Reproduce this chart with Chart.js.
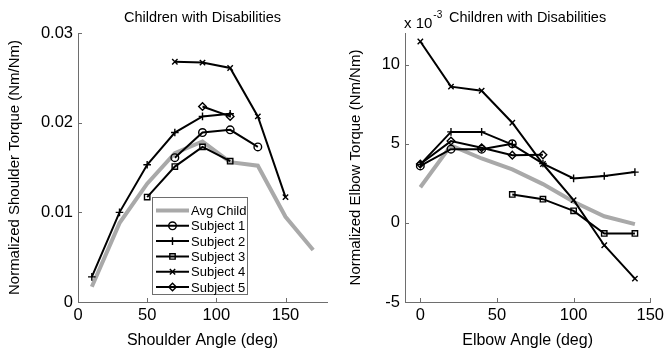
<!DOCTYPE html>
<html>
<head>
<meta charset="utf-8">
<script src="https://cdn.jsdelivr.net/npm/chart.js@4.4.0/dist/chart.umd.min.js"></script>
<style>
  body { margin: 0; background: #fff; }
  #wrap { position: relative; width: 668px; height: 358px; }
  canvas { position: absolute; top: 0; }
</style>
</head>
<body>
<div id="wrap">
  <canvas id="shoulder" width="334" height="358" style="left:0"></canvas>
  <canvas id="elbow" width="334" height="358" style="left:334px"></canvas>
</div>
<script>
// shoulder (left plot), torque in Nm/Nm
const shoulderAngles = [10, 30, 50, 70, 90, 110, 130, 150, 170];
const shoulderAvg = [0.0017, 0.0088, 0.0132, 0.0166, 0.0179, 0.0156, 0.0152, 0.0095, 0.0058];
const shoulderS1x = [70, 90, 110, 130];
const shoulderS1 = [0.0161, 0.0189, 0.0192, 0.0173];
const shoulderS2x = [10, 30, 50, 70, 90, 110];
const shoulderS2 = [0.0028, 0.0100, 0.0153, 0.0189, 0.0207, 0.0210];
const shoulderS3x = [50, 70, 90, 110];
const shoulderS3 = [0.0117, 0.0151, 0.0173, 0.0157];
const shoulderS4x = [70, 90, 110, 130, 150];
const shoulderS4 = [0.0268, 0.0267, 0.0261, 0.0207, 0.0117];
const shoulderS5x = [90, 110];
const shoulderS5 = [0.0218, 0.0207];
const shoulderXTicks = [0, 50, 100, 150];
const shoulderYTicks = [0, 0.01, 0.02, 0.03];

// elbow (right plot), torque in units of 10^-3 Nm/Nm
const elbowAngles = [0, 20, 40, 60, 80, 100, 120, 140];
const elbowAvg = [2.25, 4.9, 4.07, 3.38, 2.45, 1.33, 0.42, -0.08];
const elbowS1x = [0, 20, 40, 60];
const elbowS1 = [3.6, 4.66, 4.66, 5.0];
const elbowS2x = [0, 20, 40, 60, 80, 100, 120, 140];
const elbowS2 = [3.7, 5.75, 5.75, 4.95, 3.75, 2.81, 2.96, 3.21];
const elbowS3x = [60, 80, 100, 120, 140];
const elbowS3 = [1.8, 1.5, 0.76, -0.67, -0.67];
const elbowS4x = [0, 20, 40, 60, 80, 100, 120, 140];
const elbowS4 = [11.46, 8.61, 8.35, 6.33, 3.72, 1.44, -1.41, -3.52];
const elbowS5x = [0, 20, 40, 60, 80];
const elbowS5 = [3.72, 5.17, 4.75, 4.28, 4.3];
const elbowXTicks = [0, 50, 100, 150];
const elbowYTicks = [-5, 0, 5, 10];

const labels = ['Avg Child', 'Subject 1', 'Subject 2', 'Subject 3', 'Subject 4', 'Subject 5'];
const markers = [false, 'circle', 'cross', 'rect', 'crossRot', 'rectRot'];
const plotTitle = 'Children with Disabilities';

const fontFamily = "'Liberation Sans', Arial, sans-serif";
const axisColor = '#6e6e6e';
Chart.defaults.font.family = fontFamily;
Chart.defaults.color = '#000';

function pts(xs, ys) {
    return xs.map((x, i) => ({ x: x, y: ys[i] }));
}

function makeDatasets(series) {
    return series.map((s, i) => {
        if (i === 0) {
            return {
                label: labels[0], data: pts(s[0], s[1]), order: 1,
                borderColor: '#a9a9a9', borderWidth: 4, pointRadius: 0, pointHoverRadius: 0
            };
        }
        return {
            label: labels[i], data: pts(s[0], s[1]), order: 0,
            borderColor: '#000', borderWidth: 2,
            pointStyle: markers[i], pointRadius: 3.8, pointBorderWidth: 1.4,
            pointBorderColor: '#000', pointBackgroundColor: 'rgba(0,0,0,0)'
        };
    });
}

// MATLAB style ticks pointing into the plot
const inwardTicks = {
    id: 'inwardTicks',
    beforeDatasetsDraw(chart) {
        const ctx = chart.ctx, area = chart.chartArea;
        const xs = chart.scales.x, ys = chart.scales.y;
        ctx.save();
        ctx.strokeStyle = axisColor;
        ctx.lineWidth = 1;
        ctx.beginPath();
        xs.ticks.forEach(t => {
            const px = Math.round(xs.getPixelForValue(t.value)) + 0.5;
            ctx.moveTo(px, area.bottom);
            ctx.lineTo(px, area.bottom - 4);
        });
        ys.ticks.forEach(t => {
            const py = Math.round(ys.getPixelForValue(t.value)) + 0.5;
            ctx.moveTo(area.left, py);
            ctx.lineTo(area.left + 4, py);
        });
        ctx.stroke();
        ctx.restore();
    }
};

// title centred over the axes, plus the "x 10^-3" multiplier on the elbow plot
const axesTitle = {
    id: 'axesTitle',
    afterDraw(chart) {
        const ctx = chart.ctx, area = chart.chartArea;
        ctx.save();
        ctx.fillStyle = '#000';
        ctx.textBaseline = 'alphabetic';
        ctx.textAlign = 'center';
        ctx.font = '14.5px ' + fontFamily;
        ctx.fillText(plotTitle, (area.left + area.right) / 2, 22);
        if (chart.options.plugins.multiplier) {
            ctx.textAlign = 'left';
            ctx.font = '15px ' + fontFamily;
            ctx.fillText('x 10', area.left - 1, 28);
            const w = ctx.measureText('x 10').width;
            ctx.font = '10px ' + fontFamily;
            ctx.fillText('-3', area.left + w, 18);
        }
        ctx.restore();
    }
};

const boxLegend = {
    id: 'boxLegend',
    afterDraw(chart) {
        if (!chart.options.plugins.boxLegend) return;
        const ctx = chart.ctx;
        ctx.save();
        ctx.fillStyle = '#fff';
        ctx.fillRect(152.5, 197.5, 95, 97);
        ctx.strokeStyle = axisColor;
        ctx.lineWidth = 1;
        ctx.strokeRect(152.5, 197.5, 95, 97);
        ctx.font = '13px ' + fontFamily;
        ctx.textBaseline = 'middle';
        chart.data.datasets.forEach((ds, i) => {
            const y = 210.5 + i * 15.3;
            ctx.strokeStyle = ds.borderColor;
            ctx.lineWidth = ds.borderWidth;
            ctx.beginPath();
            ctx.moveTo(156, y);
            ctx.lineTo(189, y);
            ctx.stroke();
            if (ds.pointRadius > 0) {
                ctx.fillStyle = 'rgba(0,0,0,0)';
                ctx.lineWidth = ds.pointBorderWidth;
                Chart.helpers.drawPoint(ctx, { pointStyle: ds.pointStyle, radius: ds.pointRadius, rotation: 0, borderWidth: ds.pointBorderWidth }, 172.5, y);
            }
            ctx.fillStyle = '#000';
            ctx.fillText(ds.label, 191, y + 1);
        });
        ctx.restore();
    }
};

function makeChart(id, cfg) {
    const ctx = document.getElementById(id).getContext('2d');
    return new Chart(ctx, {
        type: 'line',
        data: { datasets: makeDatasets(cfg.series) },
        options: {
            responsive: false,
            animation: false,
            devicePixelRatio: 1,
            layout: { padding: { top: 33, right: cfg.padRight, left: 0, bottom: 0 } },
            plugins: {
                legend: { display: false },
                tooltip: { enabled: false },
                title: { display: false },
                boxLegend: cfg.legend,
                multiplier: cfg.multiplier
            },
            scales: {
                x: {
                    type: 'linear', min: cfg.xMin, max: cfg.xMax,
                    afterBuildTicks: s => { s.ticks = cfg.xTicks.map(v => ({ value: v })); },
                    afterFit: s => { s.height = 56; },
                    grid: { display: true, drawOnChartArea: false, drawTicks: false },
                    border: { display: true, color: axisColor, width: 1 },
                    ticks: { autoSkip: false, maxRotation: 0, padding: 4, font: { size: 16.5 }, callback: v => String(v) },
                    title: { display: true, text: cfg.xTitle, font: { size: 16 }, padding: 8 }
                },
                y: {
                    type: 'linear', min: cfg.yMin, max: cfg.yMax,
                    afterBuildTicks: s => { s.ticks = cfg.yTicks.map(v => ({ value: v })); },
                    afterFit: s => { s.width = cfg.yWidth; },
                    grid: { display: true, drawOnChartArea: false, drawTicks: false },
                    border: { display: true, color: axisColor, width: 1 },
                    ticks: { autoSkip: false, padding: 5, font: { size: 16.5 }, callback: v => String(v) },
                    title: { display: true, text: cfg.yTitle, font: { size: 15 }, padding: cfg.yTitlePad }
                }
            }
        },
        plugins: [inwardTicks, axesTitle, boxLegend]
    });
}

makeChart('shoulder', {
    series: [[shoulderAngles, shoulderAvg], [shoulderS1x, shoulderS1], [shoulderS2x, shoulderS2],
             [shoulderS3x, shoulderS3], [shoulderS4x, shoulderS4], [shoulderS5x, shoulderS5]],
    xMin: 0, xMax: 180, yMin: 0, yMax: 0.03,
    xTicks: shoulderXTicks, yTicks: shoulderYTicks,
    xTitle: 'Shoulder Angle (deg)', yTitle: 'Normalized Shoulder Torque (Nm/Nm)',
    yWidth: 78, yTitlePad: 6, padRight: 7, legend: true, multiplier: false
});

makeChart('elbow', {
    series: [[elbowAngles, elbowAvg], [elbowS1x, elbowS1], [elbowS2x, elbowS2],
             [elbowS3x, elbowS3], [elbowS4x, elbowS4], [elbowS5x, elbowS5]],
    xMin: -10, xMax: 150, yMin: -5, yMax: 12,
    xTicks: elbowXTicks, yTicks: elbowYTicks,
    xTitle: 'Elbow Angle (deg)', yTitle: 'Normalized Elbow Torque (Nm/Nm)',
    yWidth: 71, yTitlePad: 13, padRight: 15, legend: false, multiplier: true
});
</script>
</body>
</html>
